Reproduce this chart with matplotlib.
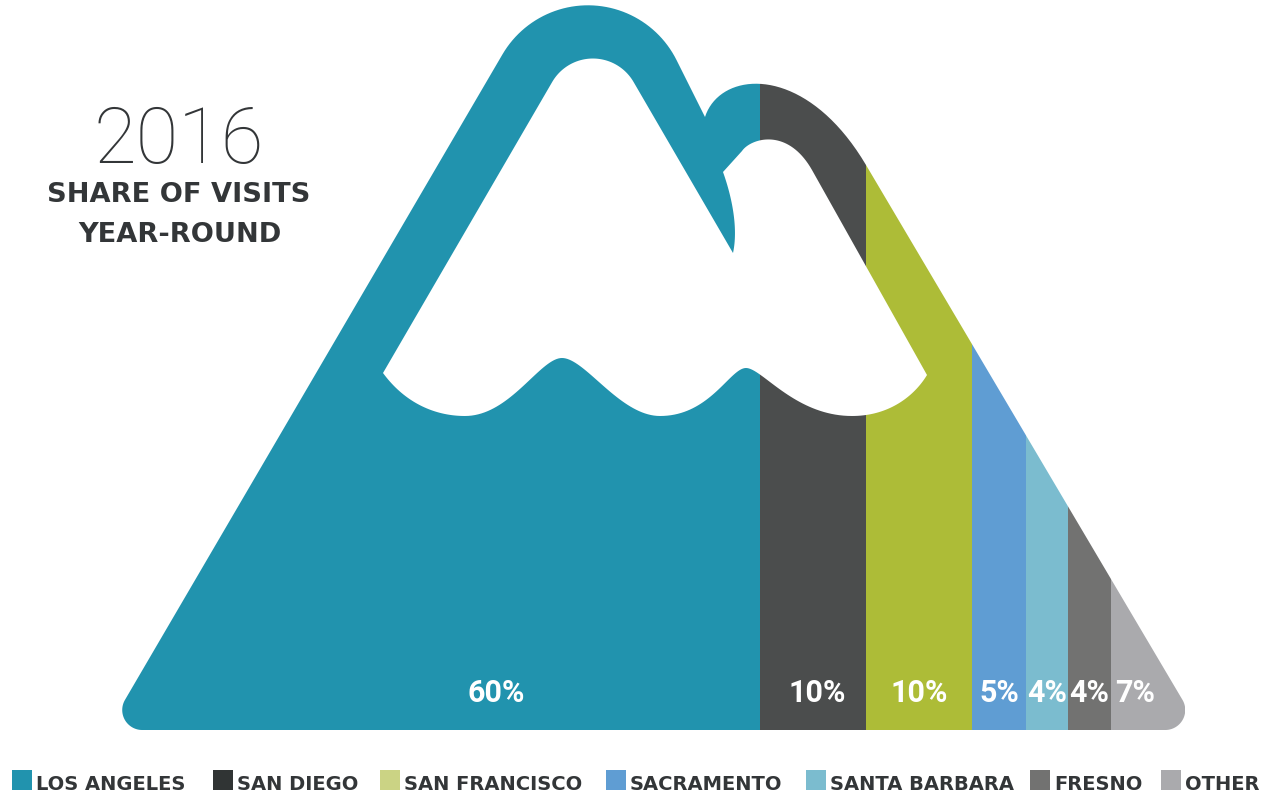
import numpy as np
import matplotlib
matplotlib.use('Agg')
import matplotlib.pyplot as plt
from matplotlib.path import Path
from matplotlib.patches import PathPatch, Rectangle

# ---------------- data ----------------
categories = ['LOS ANGELES', 'SAN DIEGO', 'SAN FRANCISCO', 'SACRAMENTO',
              'SANTA BARBARA', 'FRESNO', 'OTHER']
shares = [60, 10, 10, 5, 4, 4, 7]
share_labels = ['60%', '10%', '10%', '5%', '4%', '4%', '7%']
stripe_colors = ['#2193ae', '#4b4d4d', '#adbc37', '#5f9dd3', '#7bbccf', '#727271', '#aaaaad']
legend_colors = ['#2193ae', '#303434', '#cbd384', '#5f9dd3', '#7bbccf', '#727271', '#aaaaad']
title_year = '2016'
subtitle_lines = ['SHARE OF VISITS', 'YEAR-ROUND']

TXT = '#333638'

# ---------------- geometry helpers ----------------
def fillet(A, V, B, r, n=50):
    A, V, B = (np.asarray(p, float) for p in (A, V, B))
    u1 = (A - V) / np.linalg.norm(A - V)
    u2 = (B - V) / np.linalg.norm(B - V)
    ang = np.arccos(np.clip(np.dot(u1, u2), -1, 1))
    half = ang / 2
    d = r / np.tan(half)
    T1 = V + u1 * d
    T2 = V + u2 * d
    bis = (u1 + u2) / np.linalg.norm(u1 + u2)
    C = V + bis * (r / np.sin(half))
    a1 = np.arctan2(*(T1 - C)[::-1])
    a2 = np.arctan2(*(T2 - C)[::-1])
    diff = (a2 - a1 + np.pi) % (2 * np.pi) - np.pi
    t = np.linspace(0, 1, n)
    a = a1 + diff * t
    return [tuple(p) for p in np.column_stack([C[0] + r * np.cos(a), C[1] + r * np.sin(a)])]


def bez(P0, P1, P2, P3, n=40):
    P0, P1, P2, P3 = (np.asarray(p, float) for p in (P0, P1, P2, P3))
    t = np.linspace(0, 1, n)[:, None]
    pts = ((1 - t) ** 3) * P0 + 3 * ((1 - t) ** 2) * t * P1 + 3 * (1 - t) * t ** 2 * P2 + t ** 3 * P3
    return [tuple(p) for p in pts]


def lx(y):   # outer left slope
    return 160 + (640 - y) / 1.71


def rx(y):   # outer right slope
    return 866 + (y - 165) / 1.69


# big peak apex: left line meets right line through (705,117) slope 2
yA = (160 + 640 / 1.71 - 705 + 117 / 2) / (1 / 1.71 + 0.5)
apex = (lx(yA), yA)
V_BL = (lx(730), 730)
V_BR = (rx(730), 730)

outer = []
outer += fillet((700, 730), V_BL, (lx(300), 300), 20)
outer += fillet(V_BL, apex, (705, 117), 99)
outer += [(705, 117)]
outer += bez((705, 117), (720, 70), (rx(62), 62), (866, 165))
outer += fillet((866, 165), V_BR, (700, 730), 20)

# inner snow cap (hole)
L = (383, 373)
R = (927, 375)
tip = (733, 253)
s_in = 1.72
yI = (L[0] + L[1] / s_in - tip[0] + tip[1] / s_in) / (2 / s_in)
iapex = (L[0] + (L[1] - yI) / s_in, yI)

inner = [L]
inner += fillet(L, iapex, tip, 47)
inner += [tip]
inner += bez(tip, (738, 230), (733, 200), (723, 172))
inner += [(742, 151)]
inner += bez((742, 151), (750, 139), (787, 126), (812, 170))
inner += [R]
inner += bez(R, (915, 395), (890, 416), (852, 416))
inner += bez((852, 416), (795, 416), (762, 368), (746, 368))
inner += bez((746, 368), (730, 368), (710, 416), (660, 416))
inner += bez((660, 416), (620, 416), (585, 358), (562, 358))
inner += bez((562, 358), (540, 358), (510, 416), (465, 416))
inner += bez((465, 416), (435, 416), (405, 403), L)


def area(pts):
    p = np.asarray(pts)
    return 0.5 * np.sum(p[:, 0] * np.roll(p[:, 1], -1) - np.roll(p[:, 0], -1) * p[:, 1])


if np.sign(area(outer)) == np.sign(area(inner)):
    inner = inner[::-1]

verts = outer + [outer[0]] + inner + [inner[0]]
codes = ([Path.MOVETO] + [Path.LINETO] * (len(outer) - 1) + [Path.CLOSEPOLY] +
         [Path.MOVETO] + [Path.LINETO] * (len(inner) - 1) + [Path.CLOSEPOLY])
mountain = Path(verts, codes)

# ---------------- figure ----------------
W, H = 1277, 797
fig = plt.figure(figsize=(W / 100, H / 100), dpi=100)
ax = fig.add_axes([0, 0, 1, 1])
ax.set_xlim(0, W)
ax.set_ylim(H, 0)
ax.axis('off')

clip = PathPatch(mountain, transform=ax.transData, facecolor='none', edgecolor='none')
ax.add_patch(clip)

# stripes axis: x in share units (0..100) spanning the mountain base
ax2 = fig.add_axes([122 / W, 0, 1063 / W, 1])
ax2.set_xlim(0, 100)
ax2.set_ylim(H, 0)
ax2.axis('off')

lefts = np.concatenate([[0], np.cumsum(shares)[:-1]])
bars = ax2.bar(lefts, 730, width=shares, bottom=0, align='edge',
               color=stripe_colors, linewidth=0)
for b in bars:
    b.set_clip_path(clip)

label_offsets = [5.2, 0.4, 0, 0, 0, 0, -1.2]
for l, s, t, o in zip(lefts, shares, share_labels, label_offsets):
    ax2.text(l + s / 2 + o, 701.5, t, ha='center', va='baseline', color='white',
             fontsize=22, fontweight='bold', family=['Roboto', 'DejaVu Sans'])

# title
ax.text(179, 163, title_year, ha='center', va='baseline', color=TXT,
        fontsize=56, fontweight='light', family=['Roboto', 'DejaVu Sans'])
ax.text(179, 201.5, subtitle_lines[0], ha='center', va='baseline', color=TXT,
        fontsize=19.6, fontweight='bold', family='DejaVu Sans')
ax.text(180, 242, subtitle_lines[1], ha='center', va='baseline', color=TXT,
        fontsize=19.6, fontweight='bold', family='DejaVu Sans')

# legend
leg_x = [12, 213, 380, 606, 806, 1030, 1161]
for x, c, name in zip(leg_x, legend_colors, categories):
    ax.add_patch(Rectangle((x, 770), 20, 20, facecolor=c, edgecolor='none'))
    ax.text(x + 24, 790, name, ha='left', va='baseline', color=TXT,
            fontsize=14, fontweight='bold', family='DejaVu Sans')

fig.savefig('out.png', dpi=100)
